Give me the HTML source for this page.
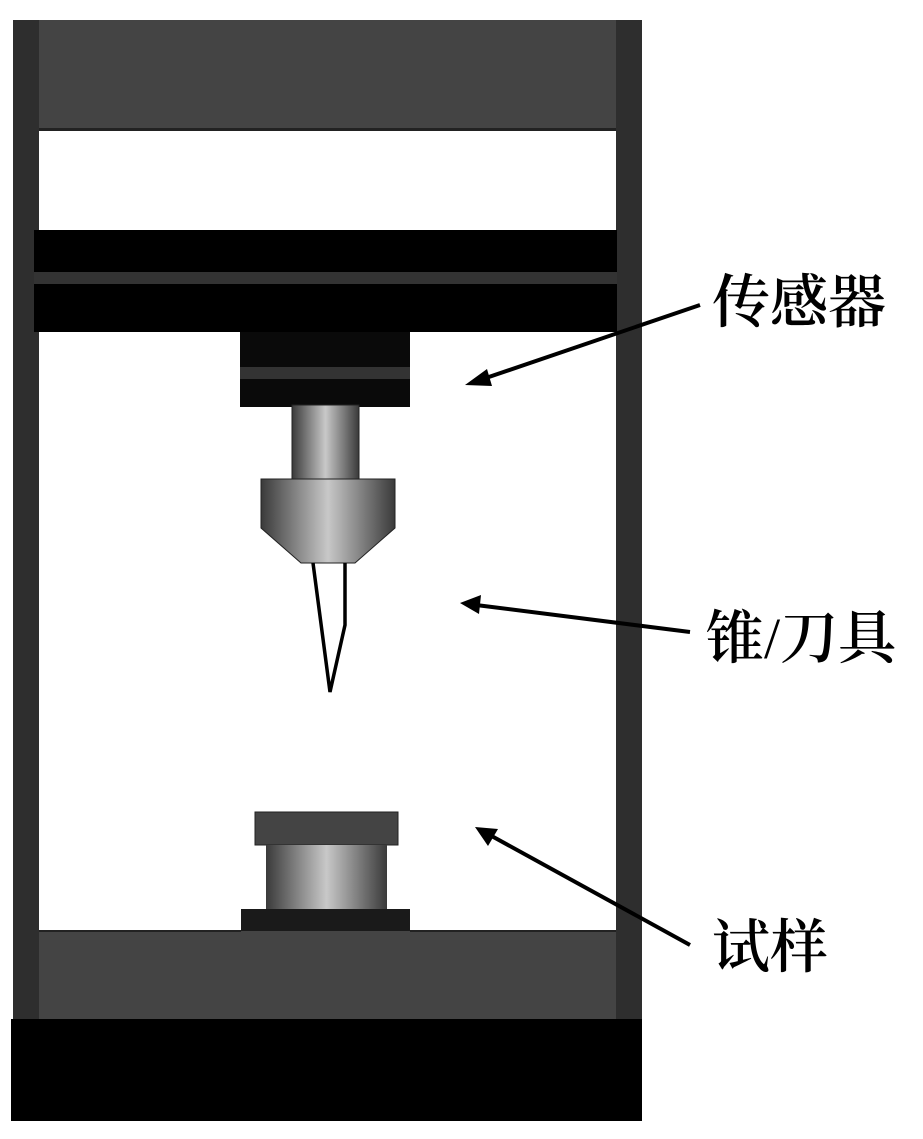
<!DOCTYPE html>
<html><head><meta charset="utf-8"><style>
html,body{margin:0;padding:0;background:#fff;}
svg{display:block;}
text{font-family:"Noto Serif CJK SC",serif;font-weight:600;font-size:58px;fill:#000;}
</style></head><body>
<svg width="923" height="1139" viewBox="0 0 923 1139" xmlns="http://www.w3.org/2000/svg">
<defs>
<linearGradient id="cyl" x1="0" x2="1" y1="0" y2="0">
<stop offset="0" stop-color="#3a3a3a"/>
<stop offset="0.5" stop-color="#c8c8c8"/>
<stop offset="1" stop-color="#3a3a3a"/>
</linearGradient>
</defs>
<rect x="13" y="20" width="26" height="1000" fill="#2e2e2e"/>
<rect x="616" y="20" width="26" height="1000" fill="#2e2e2e"/>
<rect x="39" y="20" width="577" height="110" fill="#444"/>
<rect x="39" y="128" width="577" height="3" fill="#222"/>
<rect x="34" y="230" width="583" height="42" fill="#000"/>
<rect x="34" y="272" width="583" height="12" fill="#333"/>
<rect x="34" y="284" width="583" height="48" fill="#000"/>
<rect x="240" y="332" width="170" height="75" fill="#0a0a0a"/>
<rect x="240" y="367" width="170" height="12" fill="#333"/>
<rect x="292" y="405" width="67" height="75" fill="url(#cyl)" stroke="#222" stroke-width="1"/>
<polygon points="261,479 395,479 395,528 355,563 301,563 261,528" fill="url(#cyl)" stroke="#222" stroke-width="1"/>
<polyline points="313,563 330,692 345,625 345,563" fill="none" stroke="#000" stroke-width="3.5"/>
<rect x="255" y="812" width="143" height="33" fill="#444" stroke="#222" stroke-width="1"/>
<rect x="266" y="845" width="121" height="65" fill="url(#cyl)"/>
<rect x="241" y="909" width="169" height="24" fill="#1a1a1a"/>
<rect x="39" y="931" width="577" height="89" fill="#444"/>
<rect x="39" y="930" width="202" height="2" fill="#222"/>
<rect x="410" y="930" width="206" height="2" fill="#222"/>
<rect x="11" y="1019" width="631" height="102" fill="#000"/>
<g stroke="#000" stroke-width="4" fill="#000">
<line x1="700" y1="305" x2="480" y2="380"/>
<polygon points="465,385 487,369 492,386" stroke="none"/>
<line x1="690" y1="632" x2="476" y2="605"/>
<polygon points="460,603 481,595 479,614" stroke="none"/>
<line x1="690" y1="945" x2="488" y2="834"/>
<polygon points="475,827 498,829 488,846" stroke="none"/>
</g>
<text x="712" y="322">传感器</text>
<text x="706" y="658">锥<tspan font-family="Liberation Serif" font-weight="normal">/</tspan>刀具</text>
<text x="712" y="967">试样</text>
</svg>
</body></html>
